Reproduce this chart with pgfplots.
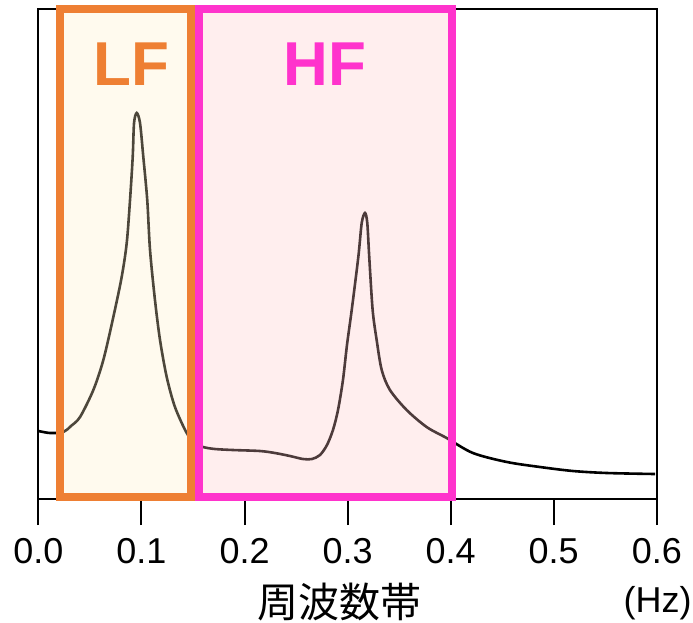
\documentclass[border=0pt]{standalone}
\usepackage{fontspec}
\setmainfont{Liberation Sans}
\newfontfamily\cjk{Noto Sans CJK JP}
\usepackage{pgfplots}
\pgfplotsset{compat=1.18}
\definecolor{lfedge}{HTML}{EE7F33}
\definecolor{hfedge}{HTML}{FF33CC}
\definecolor{lffill}{rgb}{1,0.935,0.778}
\definecolor{hffill}{rgb}{1,0.778,0.778}

\begin{document}
\begin{tikzpicture}
\begin{axis}[
  scale only axis,
  width=309.2pt, height=245pt,
  xmin=0, xmax=0.6, ymin=0, ymax=490,
  clip=false,
  axis line style={line width=1pt, black},
  xtick={0,0.1,0.2,0.3,0.4,0.5,0.6},
  xticklabels={0.0,0.1,0.2,0.3,0.4,0.5,0.6},
  ytick=\empty,
  xtick pos=bottom, tick align=outside,
  major tick length=13pt,
  major tick style={line width=1pt, black},
  xticklabel style={font=\fontsize{18}{20}\selectfont, yshift=-3pt},
]
% spectrum curve
\addplot[black, line width=1.3pt, smooth, tension=0.5] coordinates {
(0.000,68)(0.0113,66)(0.0242,67)(0.0316,73)(0.0404,82)(0.0533,109)(0.0630,139)
(0.0727,182)(0.0808,222)(0.0857,256)(0.0889,299)(0.0915,342)(0.0928,376)
(0.0954,386)(0.0986,376)(0.1018,342)(0.1056,299)(0.1083,249)(0.1131,199)
(0.1180,159)(0.1245,122)(0.1325,92)(0.1439,66)(0.1519,56)
(0.1597,52)(0.1713,50)(0.1888,49)(0.2150,48)(0.2295,46)(0.2441,43)
(0.2567,40)(0.2654,40)(0.2732,44)(0.2800,54)(0.2858,69)(0.2907,89)
(0.2955,119)(0.2994,154)(0.3040,189)(0.3104,242)(0.3137,276)(0.3169,286)
(0.3191,276)(0.3210,242)(0.3243,189)(0.3282,159)(0.3331,129)(0.3411,109)
(0.3573,89)(0.3767,72)(0.3961,61)(0.4216,46)(0.4546,37)(0.4867,32)(0.5187,28)
(0.5517,26)(0.5983,25)
};
% bands
\draw[draw=lfedge, line width=4pt, fill=lffill, fill opacity=0.3]
  (axis cs:0.0209,2) rectangle (axis cs:0.148,490);
\draw[draw=hfedge, line width=4pt, fill=hffill, fill opacity=0.3]
  (axis cs:0.156,2) rectangle (axis cs:0.401,490);
\node[text=lfedge, font=\fontsize{31}{33}\selectfont\bfseries] at (axis cs:0.0905,434.5) {LF};
\node[text=hfedge, font=\fontsize{31}{33}\selectfont\bfseries] at (axis cs:0.2778,434.5) {HF};
\node[font=\fontsize{20.5}{22}\selectfont\cjk] at (axis cs:0.2921,-103) {周波数帯};
\node[font=\fontsize{18}{20}\selectfont] at (axis cs:0.6007,-104) {(Hz)};
\coordinate (bbsw) at (rel axis cs:0,0);
\coordinate (bbne) at (rel axis cs:1,1);
\end{axis}
\pgfresetboundingbox
\path[use as bounding box] ([shift={(-19.2pt,-61.5pt)}]bbsw) rectangle ([shift={(18.1pt,4.5pt)}]bbne);
\end{tikzpicture}
\end{document}
